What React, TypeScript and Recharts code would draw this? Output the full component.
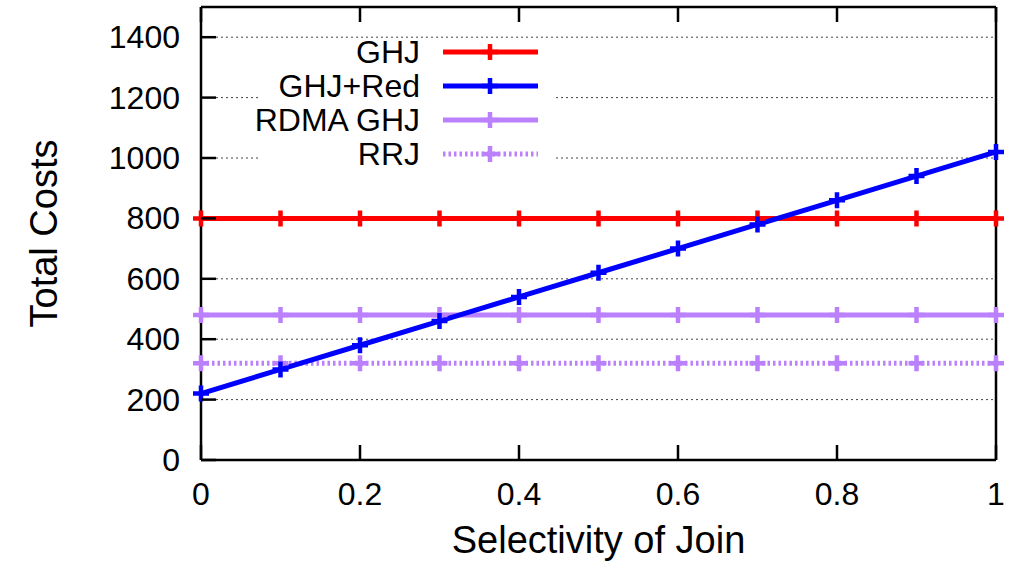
import React from "react";
import { LineChart, Line, XAxis, YAxis, CartesianGrid, Legend, Label } from "recharts";

const selectivity = [0, 0.1, 0.2, 0.3, 0.4, 0.5, 0.6, 0.7, 0.8, 0.9, 1];
const ghj = [800, 800, 800, 800, 800, 800, 800, 800, 800, 800, 800];
const ghjRed = [220, 300, 380, 460, 540, 620, 700, 780, 860, 940, 1020];
const rdmaGhj = [480, 480, 480, 480, 480, 480, 480, 480, 480, 480, 480];
const rrj = [320, 320, 320, 320, 320, 320, 320, 320, 320, 320, 320];

const xTicks = [0, 0.2, 0.4, 0.6, 0.8, 1];
const yTicks = [0, 200, 400, 600, 800, 1000, 1200, 1400];

const data = selectivity.map((s, i) => ({
  s,
  ghj: ghj[i],
  ghjRed: ghjRed[i],
  rdmaGhj: rdmaGhj[i],
  rrj: rrj[i],
}));

const PURPLE = "#bb80fb";
const FONT = '"Liberation Sans", Arial, Helvetica, sans-serif';

const series = [
  { key: "ghj", name: "GHJ", color: "#ff0000", dash: undefined },
  { key: "ghjRed", name: "GHJ+Red", color: "#0000ff", dash: undefined },
  { key: "rdmaGhj", name: "RDMA GHJ", color: PURPLE, dash: undefined },
  { key: "rrj", name: "RRJ", color: PURPLE, dash: "2.5 3" },
];

const plus = (color: string) => (props: any) => {
  const { cx, cy, index } = props;
  if (cx == null || cy == null) return <g key={index} />;
  return (
    <path
      key={index}
      d={`M${cx - 8},${cy}h16M${cx},${cy - 8}v16`}
      stroke={color}
      strokeWidth={4.5}
      fill="none"
    />
  );
};

const fmtX = (v: number) => (v === 0 || v === 1 ? String(v) : v.toFixed(1));

const BottomTick = ({ x, y, payload }: any) => (
  <g>
    <line x1={x} y1={y} x2={x} y2={y - 15} stroke="#000" strokeWidth={2.5} />
    <text x={x} y={y + 45} textAnchor="middle" fontSize={32} fontFamily={FONT} fill="#000">
      {fmtX(payload.value)}
    </text>
  </g>
);

const TopTick = ({ x, y }: any) => (
  <line x1={x} y1={y} x2={x} y2={y + 15} stroke="#000" strokeWidth={2.5} />
);

const LeftTick = ({ x, y, payload }: any) => (
  <g>
    <line x1={x} y1={y} x2={x + 15} y2={y} stroke="#000" strokeWidth={2.5} />
    <text x={x - 21} y={y + 11} textAnchor="end" fontSize={32} fontFamily={FONT} fill="#000">
      {payload.value}
    </text>
  </g>
);

const RightTick = ({ x, y }: any) => (
  <line x1={x} y1={y} x2={x - 15} y2={y} stroke="#000" strokeWidth={2.5} />
);

const LegendBox = () => (
  <div style={{ position: "absolute", left: 260, top: 40, width: 295, height: 130, background: "#fff" }}>
    <svg width={295} height={130} style={{ overflow: "visible" }}>
      {series.map((s, i) => {
        const cy = 12 + i * 34;
        return (
          <g key={s.key}>
            <text x={160} y={cy + 11} textAnchor="end" fontSize={32} fontFamily={FONT} fill="#000">
              {s.name}
            </text>
            <line x1={183} x2={278} y1={cy} y2={cy} stroke={s.color} strokeWidth={5} strokeDasharray={s.dash} />
            <path d={`M${222},${cy}h16M${230},${cy - 8}v16`} stroke={s.color} strokeWidth={4.5} />
          </g>
        );
      })}
    </svg>
  </div>
);

export default function App() {
  return (
    <div style={{ position: "absolute", left: 0, top: 0, background: "#fff" }}>
      <LineChart width={1022} height={565} data={data} margin={{ top: 6, right: 25, left: 0, bottom: 0 }}>
        <CartesianGrid vertical={false} stroke="#444" strokeDasharray="2 3" strokeWidth={1} />
        <XAxis
          dataKey="s"
          type="number"
          domain={[0, 1]}
          ticks={xTicks}
          interval={0}
          height={105}
          tickSize={0}
          tickMargin={0}
          tickLine={false}
          axisLine={{ stroke: "#000", strokeWidth: 2.5 }}
          tick={<BottomTick />}
        >
          <Label
            content={({ viewBox }: any) => (
              <text
                x={viewBox.x + viewBox.width / 2}
                y={viewBox.y + 93}
                textAnchor="middle"
                fontSize={38}
                fontFamily={FONT}
                fill="#000"
              >
                Selectivity of Join
              </text>
            )}
          />
        </XAxis>
        <XAxis
          xAxisId="top"
          orientation="top"
          dataKey="s"
          type="number"
          domain={[0, 1]}
          ticks={xTicks}
          interval={0}
          height={1}
          tickSize={0}
          tickMargin={0}
          tickLine={false}
          axisLine={{ stroke: "#000", strokeWidth: 2.5 }}
          tick={<TopTick />}
        />
        <YAxis
          type="number"
          domain={[0, 1500]}
          ticks={yTicks}
          interval={0}
          width={201}
          tickSize={0}
          tickMargin={0}
          tickLine={false}
          axisLine={{ stroke: "#000", strokeWidth: 2.5 }}
          tick={<LeftTick />}
        >
          <Label
            content={({ viewBox }: any) => {
              const cy = viewBox.y + viewBox.height / 2;
              return (
                <text
                  x={57}
                  y={cy}
                  transform={`rotate(-90, 57, ${cy})`}
                  textAnchor="middle"
                  fontSize={38}
                  fontFamily={FONT}
                  fill="#000"
                >
                  Total Costs
                </text>
              );
            }}
          />
        </YAxis>
        <YAxis
          yAxisId="right"
          orientation="right"
          type="number"
          domain={[0, 1500]}
          ticks={yTicks}
          interval={0}
          width={1}
          tickSize={0}
          tickMargin={0}
          tickLine={false}
          axisLine={{ stroke: "#000", strokeWidth: 2.5 }}
          tick={<RightTick />}
        />
        <Legend
          layout="vertical"
          align="center"
          verticalAlign="middle"
          wrapperStyle={{ left: 0, top: 0, width: 0, height: 0 }}
          content={() => <LegendBox />}
        />
        {[series[0], series[2], series[3], series[1]].map((s) => (
          <Line
            key={s.key}
            dataKey={s.key}
            name={s.name}
            stroke={s.color}
            strokeWidth={5}
            strokeDasharray={s.dash}
            dot={plus(s.color)}
            activeDot={false}
            isAnimationActive={false}
          />
        ))}
      </LineChart>
    </div>
  );
}
